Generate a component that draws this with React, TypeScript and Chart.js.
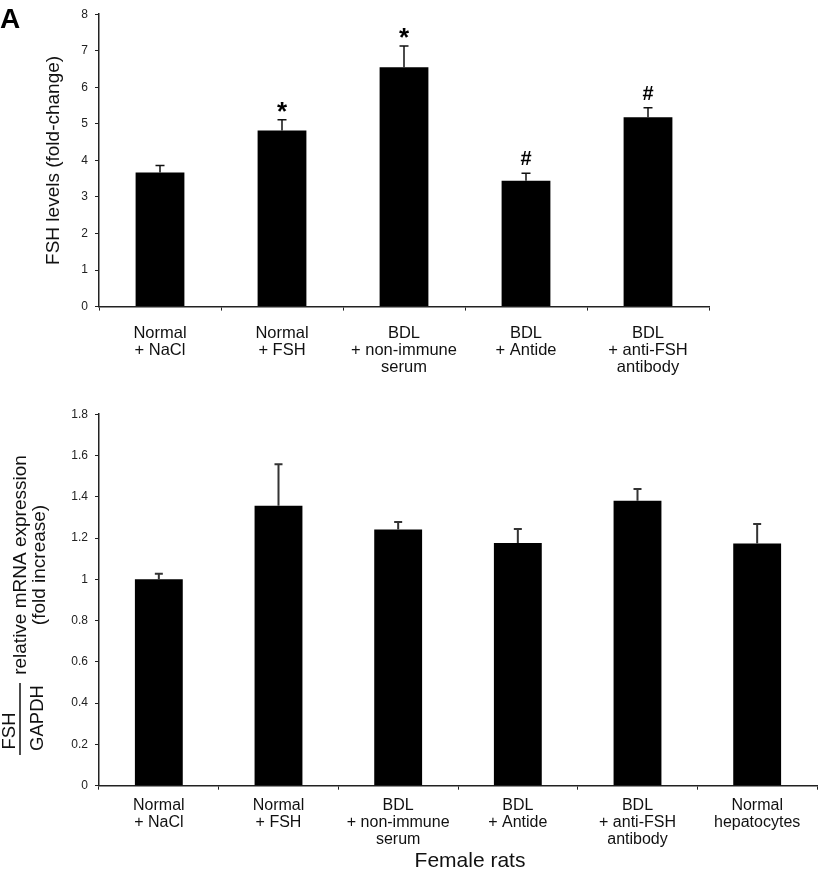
import React, { useEffect, useRef } from "react";
import { Chart, registerables } from "chart.js";

Chart.register(...registerables);

const FONT = '"Liberation Sans", Arial, Helvetica, sans-serif';

// ---------- Data: top panel ----------
const topCategories: string[][] = [
  ["Normal", "+ NaCl"],
  ["Normal", "+ FSH"],
  ["BDL", "+ non-immune", "serum"],
  ["BDL", "+ Antide"],
  ["BDL", "+ anti-FSH", "antibody"],
];
const topValues = [3.67, 4.82, 6.55, 3.44, 5.18];
const topErrors = [0.19, 0.29, 0.58, 0.21, 0.26];
const topMarks = ["", "*", "*", "#", "#"];
const topYTicks = [0, 1, 2, 3, 4, 5, 6, 7, 8];
const topYTitle = "FSH levels (fold-change)";

// ---------- Data: bottom panel ----------
const bottomCategories: string[][] = [
  ["Normal", "+ NaCl"],
  ["Normal", "+ FSH"],
  ["BDL", "+ non-immune", "serum"],
  ["BDL", "+ Antide"],
  ["BDL", "+ anti-FSH", "antibody"],
  ["Normal", "hepatocytes"],
];
const bottomValues = [1.0, 1.357, 1.241, 1.176, 1.381, 1.174];
const bottomErrors = [0.027, 0.2, 0.037, 0.068, 0.056, 0.094];
const bottomMarks = ["", "", "", "", "", ""];
const bottomYTicks = [0, 0.2, 0.4, 0.6, 0.8, 1, 1.2, 1.4, 1.6, 1.8];
const bottomXTitle = "Female rats";

type ErrStyle = { color: string; width: number; cap: number };

function errorBarPlugin(values: number[], errors: number[], marks: string[], st: ErrStyle) {
  return {
    id: "errorBars",
    afterDatasetsDraw(chart: any) {
      const ctx = chart.ctx as CanvasRenderingContext2D;
      const meta = chart.getDatasetMeta(0);
      const ys = chart.scales.y;
      ctx.save();
      meta.data.forEach((bar: any, i: number) => {
        const x = bar.x;
        const yTop = ys.getPixelForValue(values[i] + errors[i]);
        ctx.strokeStyle = st.color;
        ctx.lineWidth = st.width;
        ctx.beginPath();
        ctx.moveTo(x, bar.y);
        ctx.lineTo(x, yTop);
        ctx.moveTo(x - st.cap / 2, yTop);
        ctx.lineTo(x + st.cap / 2, yTop);
        ctx.stroke();
        const m = marks[i];
        if (m) {
          ctx.font = `bold ${m === "*" ? 26 : 20}px ${FONT}`;
          ctx.textAlign = "center";
          ctx.textBaseline = "alphabetic";
          ctx.fillStyle = "#000";
          const desc = ctx.measureText(m).actualBoundingBoxDescent || 0;
          ctx.fillText(m, x, yTop - 8 - desc);
        }
      });
      ctx.restore();
    },
  };
}

function rotText(ctx: CanvasRenderingContext2D, text: string, x: number, y: number) {
  ctx.save();
  ctx.translate(x, y);
  ctx.rotate(-Math.PI / 2);
  ctx.textAlign = "center";
  ctx.textBaseline = "alphabetic";
  ctx.fillText(text, 0, 0);
  ctx.restore();
}

function makeConfig(opts: {
  labels: string[][];
  values: number[];
  yTicks: number[];
  yMax: number;
  xHeight: number;
  top: number;
  right: number;
  xFontSize: number;
  xPad: number;
  yTitle: string | null;
  plugins: any[];
}) {
  return {
    type: "bar" as const,
    data: {
      labels: opts.labels,
      datasets: [
        {
          data: opts.values,
          backgroundColor: "#000",
          borderWidth: 0,
          barPercentage: 0.4,
          categoryPercentage: 1,
        },
      ],
    },
    options: {
      responsive: false,
      animation: false as const,
      devicePixelRatio: 1,
      layout: { padding: { left: 0, right: opts.right, top: opts.top, bottom: 0 } },
      plugins: { legend: { display: false }, tooltip: { enabled: false } },
      scales: {
        x: {
          afterFit: (s: any) => {
            s.height = opts.xHeight;
          },
          border: { display: true, color: "#222", width: 1.5 },
          grid: {
            display: true,
            drawOnChartArea: false,
            drawTicks: true,
            tickLength: 4,
            color: "#222",
            lineWidth: 1,
            offset: true,
          },
          ticks: {
            font: { family: FONT, size: opts.xFontSize, lineHeight: "17px" },
            color: "#111",
            padding: opts.xPad,
            maxRotation: 0,
            autoSkip: false,
          },
        },
        y: {
          min: 0,
          max: opts.yMax,
          afterBuildTicks: (s: any) => {
            s.ticks = opts.yTicks.map((v) => ({ value: v }));
          },
          afterFit: (s: any) => {
            s.width = 99;
          },
          border: { display: true, color: "#222", width: 1.5 },
          grid: {
            display: true,
            drawOnChartArea: false,
            drawTicks: true,
            tickLength: 4,
            color: "#222",
            lineWidth: 1,
          },
          ticks: {
            font: { family: FONT, size: 12 },
            color: "#222",
            padding: 7,
            callback: (v: any) => String(v),
          },
          title: opts.yTitle
            ? {
                display: true,
                text: opts.yTitle,
                font: { family: FONT, size: 19 },
                color: "#111",
                padding: { top: 42, bottom: 0 },
              }
            : { display: false },
        },
      },
    },
    plugins: opts.plugins,
  };
}

export default function App() {
  const topRef = useRef<HTMLCanvasElement>(null);
  const botRef = useRef<HTMLCanvasElement>(null);

  useEffect(() => {
    const panelLabel = {
      id: "panelLabel",
      afterDraw(chart: any) {
        const ctx = chart.ctx as CanvasRenderingContext2D;
        ctx.save();
        ctx.font = `bold 28px ${FONT}`;
        ctx.fillStyle = "#000";
        ctx.textAlign = "left";
        ctx.textBaseline = "alphabetic";
        ctx.fillText("A", 0, 28);
        ctx.restore();
      },
    };

    const bottomTitles = {
      id: "bottomTitles",
      afterDraw(chart: any) {
        const ctx = chart.ctx as CanvasRenderingContext2D;
        const a = chart.chartArea;
        ctx.save();
        ctx.fillStyle = "#111";
        ctx.font = `19px ${FONT}`;
        rotText(ctx, "relative mRNA expression", 26, 165);
        rotText(ctx, "(fold increase)", 45, 165);
        ctx.font = `18.5px ${FONT}`;
        rotText(ctx, "FSH", 15, 331);
        rotText(ctx, "GAPDH", 43, 318);
        ctx.strokeStyle = "#111";
        ctx.lineWidth = 1.5;
        ctx.beginPath();
        ctx.moveTo(20, 283);
        ctx.lineTo(20, 355);
        ctx.stroke();
        ctx.font = `21px ${FONT}`;
        ctx.textAlign = "center";
        ctx.textBaseline = "alphabetic";
        ctx.fillText(bottomXTitle, (a.left + a.right) / 2 + 12, a.bottom + 81);
        ctx.restore();
      },
    };

    const c1 = new Chart(
      topRef.current as HTMLCanvasElement,
      makeConfig({
        labels: topCategories,
        values: topValues,
        yTicks: topYTicks,
        yMax: 8,
        xHeight: 93.4,
        top: 7,
        right: 111,
        xFontSize: 16.5,
        xPad: 14,
        yTitle: topYTitle,
        plugins: [errorBarPlugin(topValues, topErrors, topMarks, { color: "#111", width: 1.5, cap: 9 }), panelLabel],
      }) as any
    );
    const c2 = new Chart(
      botRef.current as HTMLCanvasElement,
      makeConfig({
        labels: bottomCategories,
        values: bottomValues,
        yTicks: bottomYTicks,
        yMax: 1.8,
        xHeight: 92.3,
        top: 12.4,
        right: 3,
        xFontSize: 16,
        xPad: 7.5,
        yTitle: null,
        plugins: [errorBarPlugin(bottomValues, bottomErrors, bottomMarks, { color: "#333", width: 2, cap: 8 }), bottomTitles],
      }) as any
    );
    return () => {
      c1.destroy();
      c2.destroy();
    };
  }, []);

  return (
    <div style={{ position: "absolute", left: 0, top: 0, width: 820, height: 878, background: "#fff" }}>
      <canvas
        ref={topRef}
        width={820}
        height={400}
        style={{ position: "absolute", left: 0, top: 0, width: 820, height: 400 }}
      />
      <canvas
        ref={botRef}
        width={820}
        height={478}
        style={{ position: "absolute", left: 0, top: 400, width: 820, height: 478 }}
      />
    </div>
  );
}
